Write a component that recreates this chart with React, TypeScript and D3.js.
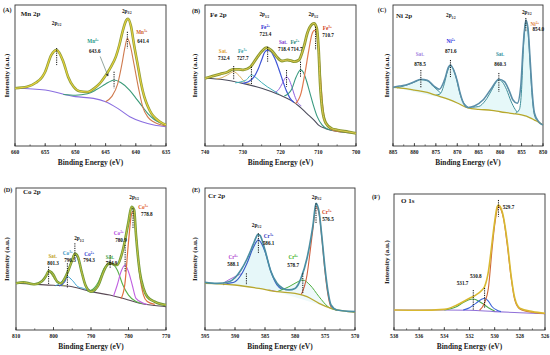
import React from "react";
import * as d3 from "d3";

type P = [number, number];

// ---------- Tick values ----------
const mnTicks = [660, 655, 650, 645, 640, 635];
const feTicks = [740, 730, 720, 710, 700];
const niTicks = [885, 880, 875, 870, 865, 860, 855, 850];
const coTicks = [810, 800, 790, 780, 770];
const crTicks = [595, 590, 585, 580, 575, 570];
const oTicks = [538, 536, 534, 532, 530, 528, 526];

// ---------- (A) Mn 2p ----------
const mnEnvelope: P[] = [[660,41],[658,42],[656.5,45],[655.5,49],[655,52.7],[654,64.5],[653.1,68],[652,59.8],[651.2,49],[650.3,42],[649.3,38.8],[648,38.3],[647,40.5],[646,44.2],[645,50],[644,57],[643.3,63.4],[642.7,72],[642.2,81],[641.6,89],[641.3,90.3],[640.8,85],[640.3,72],[639.7,58],[639.2,46],[638.6,35],[638,28],[637.4,23],[636.7,19.5],[636,17.2],[635,15]];
const mnBackground: P[] = [[660,41],[655,39.7],[650,35],[647,33.8],[645,31.4],[643,26.7],[641,20.8],[639,17.2],[637,14.9],[635,13.7]];
const mnMn4: P[] = [[652,36.5],[650,36],[648,37],[646.5,40],[645,44],[644,46.3],[643.6,46.8],[642.5,45],[641,39.5],[640,34],[639,28.5],[638,23],[637,19],[636,16.5],[635,14.9]];
const mnMn3: P[] = [[645,31.4],[644,35],[643,44],[642.3,58],[641.8,70],[641.4,76.4],[640.9,71],[640.3,58],[639.5,40],[638.8,27],[638,20.5],[637,17],[636,15.2],[635,14.2]];

// ---------- (B) Fe 2p ----------
const feEnvelope: P[] = [[740,48],[738,49.5],[736,51],[734,52.5],[732.6,54.4],[731,54.3],[729.8,54],[728,56],[726.4,62],[725,67],[723.7,69.7],[722.5,68],[721.5,65],[720.9,63],[719.6,60.3],[718.2,61],[717.2,60.5],[716.4,59.8],[715.1,61],[714.3,66],[713.8,70.4],[712.9,80],[711.6,86.5],[711.1,87],[710.4,83.5],[709.9,68],[709.5,44.4],[708.9,25.5],[708,16.3],[706.5,12.5],[704.9,11.3],[702,10],[700,9]];
const feBackground: P[] = [[740,48],[735,47],[730,44.4],[725,41],[720,36],[717,32],[715,28],[713,23],[711,18],[710,15],[708,12.3],[706,10.8],[704,10],[700,9]];
const feFe3a: P[] = [[716,30],[714.5,38],[713.5,52],[712.5,68],[711.7,79],[711,82],[710.3,78],[709.8,65],[709.3,45],[708.8,28],[708.2,18],[707.2,13],[706,11],[704,10]];
const feFe2a: P[] = [[719,35.5],[718,37],[717,40.5],[716,48],[715.2,52.5],[714.7,54],[714,52.5],[713.2,47],[712.3,38.5],[711.3,29],[710.3,21],[709,15],[707.5,12],[706,11]];
const feSat1: P[] = [[721.5,38],[720.5,40],[719.5,44.5],[718.8,48],[718.4,49],[717.8,47.5],[717,42],[716.3,36],[715.5,31],[714.5,28.5]];
const feFe2b: P[] = [[730,44.4],[728.5,45.5],[727,49],[726,54],[725,61],[724.2,66.5],[723.4,68],[722.5,66.8],[721.5,62],[720.5,55],[719.5,47],[718.5,39.5],[717.5,34],[716.5,31]];
const feFe3b: P[] = [[732,44.8],[730.5,45.5],[729,47],[727.7,50.4],[726.5,48.5],[725,45],[723.5,42],[722,39.5],[720.5,37]];
const feSat2: P[] = [[737,47.5],[735.5,48.5],[734,50.5],[732.4,52.7],[731,50],[729.5,45.5],[728,44]];

// ---------- (C) Ni 2p ----------
const niData: P[] = [[885,41.6],[883.5,42.5],[882,43.3],[880,45.6],[878.5,47.3],[877,46.7],[875.5,42.6],[874.2,40.2],[873,46.7],[872,56.2],[871.6,57.4],[870.8,53.5],[870,46],[869.3,37],[868.5,30],[867.5,27.3],[866,28.4],[864,32.6],[862,41],[860.3,47.3],[859,45.6],[858,40],[857,32.6],[856,30.3],[855.2,42],[854.6,72],[854,89.4],[853.5,83.5],[853,61],[852.5,37.4],[852,23.4],[851,17.2],[850,14.9]];
const niBackground: P[] = [[885,41.6],[882,40.7],[880,39.7],[877,38],[875,36],[872,33],[870,30.5],[867.5,27],[865,26],[862,25.3],[860,24.3],[857,23],[855,22],[853,20],[852,18.4],[851,16.8],[850,14.9]];
const niSatA: P[] = [[884,41.2],[882,43],[880,45.3],[878.5,47],[877,46.2],[875.5,42],[874.2,38.5],[873,35],[872,33]];
const niNiA: P[] = [[875,36],[874,37],[873,44.5],[872.3,53],[871.6,56.8],[871,55],[870.4,50],[869.7,41],[869,33.5],[868.2,29.5],[867.3,27]];
const niSatB: P[] = [[866.5,27.5],[865,28],[863.5,32],[862,39.5],[861,45],[860.3,47],[859.5,45.5],[858.5,40],[857.5,32],[856.5,26],[855.5,22.5]];
const niNiB: P[] = [[856.5,23],[855.5,26],[855,40],[854.6,68],[854.2,85],[854,88],[853.7,86],[853.3,73],[852.9,52],[852.5,34],[852,22],[851.2,17.5]];

// ---------- (D) Co 2p ----------
const coEnvelope: P[] = [[810,32.9],[808,33.6],[806,32.5],[805,32.2],[803,34.5],[802,38],[801.3,41.5],[800.5,40.5],[800,38.7],[799,34],[798,32.9],[797,36.4],[796,42.3],[795,49.3],[794.3,53.8],[793.5,51.6],[792.5,41],[791.5,31.7],[790,27],[789,28.2],[788,31.7],[787,38.7],[786,44.6],[785,47],[784,46.2],[783,45.8],[782,51.6],[781,62.2],[780,76.3],[779.2,86.8],[778.5,84.5],[778,66.9],[777,41],[776,29.3],[775,23.5],[773,19.9],[770,17.6]];
const coBackground: P[] = [[810,32.9],[805,32.2],[800,31.5],[795,30.5],[790,27],[785,24.6],[780,21.1],[777,18.8],[773,17.2],[770,16.4]];
const coCo3a: P[] = [[782,22],[781,31.7],[780,62],[779.3,80],[778.9,83.3],[778.3,76],[777.8,62],[777,38.7],[776,24.6],[775,20],[773,18]];
const coCo2a: P[] = [[784,23.9],[783,31.7],[782,41],[780.9,45.8],[780,41],[779,31.7],[778,22.3],[776,18.8],[775,18]];
const coSat1: P[] = [[791,27.5],[790,28],[788,34],[786.5,43.4],[784.9,47],[783,42.3],[781.5,31.7],[780,24.6],[778,20],[776,18.5]];
const coCo2b: P[] = [[798.5,31],[797,34],[796,42.3],[795,49.8],[794.3,52.8],[793.5,50.2],[792.5,41],[791.5,31.7],[790,27.5],[789,27]];
const coCo3b: P[] = [[799.5,31.2],[798.5,32.5],[797.5,35],[796.3,37.6],[795,35],[793.5,30.5],[792,29.3],[790.5,27.5]];
const coSat2: P[] = [[805,32.2],[803,34.5],[802,38],[801.3,41],[800.5,39],[799.5,35],[798,32.2],[797,31.2]];

// ---------- (E) Cr 2p ----------
const crEnvelope: P[] = [[595,33.6],[593,32.9],[591,34],[590,36.8],[589,42.3],[588,50],[587,59.9],[586.5,65],[586.2,67.4],[585.8,66.5],[585.5,63.4],[585,56.3],[584,41],[583,32.9],[582,29.3],[581,28.2],[580,29.3],[579.5,31.7],[579,36.4],[578,50.5],[577.3,66],[577,73.9],[576.5,89.2],[576,83.3],[575.5,64.6],[575,43.4],[574.5,27],[574,17.6],[573,14.1],[570,12.9]];
const crBackground: P[] = [[595,32.9],[590,31.7],[586,29.3],[583,27],[580,25.8],[578,23.5],[576,18.8],[574,15.3],[572,13.4],[570,12.4]];
const crCr3a: P[] = [[579,24.6],[578,38.7],[577.4,58],[577,71.6],[576.5,86.8],[576,82.2],[575.5,63.4],[575,41],[574.5,24.6],[574,16.4],[573,14]];
const crCr6a: P[] = [[583,27],[581,30.5],[580,32.9],[578.7,35.2],[577.5,31.7],[576,23.5],[574.5,16.4],[573,14]];
const crCr3b: P[] = [[592,32],[591,32.9],[590,34],[589,38.7],[588,47],[587,57.5],[586.1,63.4],[585,55.2],[584,41],[583,31.7],[582,28.2],[581,27]];
const crCr6b: P[] = [[592,32.9],[590,37.6],[588.5,39.9],[587,37.6],[585.5,31.7],[584,28.2],[583,27]];

// ---------- (F) O 1s ----------
const oEnvelope: P[] = [[538,14.7],[536,14.5],[534,15.2],[533,18.4],[532,23.3],[531.5,25.7],[531,29.4],[530.8,31.9],[530.5,42.9],[530.2,64.9],[530,79.7],[529.8,90.7],[529.7,91.9],[529.4,87],[529,64.9],[528.7,40.4],[528.4,23.3],[528,16],[527,13.5],[526,12.3]];
const oBackground: P[] = [[538,14.7],[534,14.7],[532,14.5],[530,13.5],[528,12.7],[526,12]];
const oLattice: P[] = [[531.2,14.5],[530.8,20],[530.5,30.6],[530.2,60],[530,77],[529.7,90.7],[529.3,82],[529,62.5],[528.7,39],[528.4,22],[528,15.5],[527,13],[526,12]];
const oHydroxyl: P[] = [[532.5,14.7],[532,16.4],[531.5,19.6],[531,22.8],[530.8,23.3],[530.5,21.3],[530.2,17.1],[529.8,14.5],[529.5,13.5]];
const oAdsorbed: P[] = [[534,14.7],[533,17.2],[532.5,20.3],[531.7,22.8],[531,19.6],[530.5,16.4],[530,14]];

// ---------- rendering ----------
const FONT = "'Liberation Serif','Times New Roman',serif";

interface Curve { data: P[]; color: string; width: number; fill?: string }
interface Lbl { t: string; sup?: string; sub?: string; x: number; y: number; color?: string; size?: number }
interface Mark { x: number; y1: number; y2: number }
interface PanelCfg {
  left: number; right: number; top: number; bottom: number;
  domain: [number, number]; ticks: number[]; minor: number;
  curves: Curve[]; labels: Lbl[]; marks: Mark[];
  letter: string; letterDx: number; letterDy: number;
  title: string; titleDx: number; titleDy: number; ylabDx: number;
  arrow?: [P, P];
}

function LabelText({ l, x, y }: { l: Lbl; x: number; y: number }) {
  const fs = l.size ?? 5.2;
  return (
    <text x={x} y={y} textAnchor="middle" dominantBaseline="middle" fontFamily={FONT} fontWeight="bold" fontSize={fs} fill={l.color ?? "#111"}>
      {l.t}
      {l.sup && <tspan fontSize={fs * 0.62} dy={-fs * 0.4}>{l.sup}</tspan>}
      {l.sub && <tspan fontSize={fs * 0.62} dy={fs * 0.3}>{l.sub}</tspan>}
    </text>
  );
}

function Panel({ c, id }: { c: PanelCfg; id: string }) {
  const x = d3.scaleLinear().domain(c.domain).range([c.left, c.right]);
  const y = d3.scaleLinear().domain([0, 100]).range([c.bottom, c.top]);
  const line = d3.line<P>().x(d => x(d[0])).y(d => y(d[1])).curve(d3.curveMonotoneX);
  const lo = Math.min(...c.domain), hi = Math.max(...c.domain);
  const minors = d3.range(lo, hi + 1e-9, c.minor);
  const midY = (c.top + c.bottom) / 2;
  return (
    <g>
      <rect x={c.left} y={c.top} width={c.right - c.left} height={c.bottom - c.top} fill="none" stroke="#333" strokeWidth={0.9} />
      {c.curves.map((cv, i) => (
        <g key={i}>
          {cv.fill && <path d={(line(cv.data) ?? "") + "Z"} fill={cv.fill} stroke="none" />}
          <path d={line(cv.data) ?? ""} fill="none" stroke={cv.color} strokeWidth={cv.width} strokeLinejoin="round" />
        </g>
      ))}
      {c.marks.map((m, i) => (
        <line key={i} x1={x(m.x)} x2={x(m.x)} y1={y(m.y1)} y2={y(m.y2)} stroke="#111" strokeWidth={1} strokeDasharray="1.2,1.1" />
      ))}
      {c.arrow && (
        <line x1={x(c.arrow[0][0])} y1={y(c.arrow[0][1])} x2={x(c.arrow[1][0])} y2={y(c.arrow[1][1])} stroke="#4a6a60" strokeWidth={0.6} markerEnd={`url(#arr${id})`} />
      )}
      <defs>
        <marker id={`arr${id}`} viewBox="0 0 6 6" refX="5" refY="3" markerWidth="5" markerHeight="5" orient="auto">
          <path d="M0,0 L6,3 L0,6 Z" fill="#333" />
        </marker>
      </defs>
      {minors.map((v, i) => (
        <line key={"m" + i} x1={x(v)} x2={x(v)} y1={c.bottom} y2={c.bottom - 1.6} stroke="#333" strokeWidth={0.7} />
      ))}
      {c.ticks.map((v, i) => (
        <g key={"t" + i}>
          <line x1={x(v)} x2={x(v)} y1={c.bottom} y2={c.bottom - 3} stroke="#333" strokeWidth={0.8} />
          <text x={x(v)} y={c.bottom + 7} textAnchor="middle" dominantBaseline="middle" fontFamily={FONT} fontWeight="bold" fontSize={5.5} fill="#222">{v}</text>
        </g>
      ))}
      <text x={(c.left + c.right) / 2} y={c.bottom + 17.5} textAnchor="middle" dominantBaseline="middle" fontFamily={FONT} fontWeight="bold" fontSize={7.4} fill="#222">Binding Energy (eV)</text>
      <text transform={`translate(${c.left - c.ylabDx},${midY}) rotate(-90)`} textAnchor="middle" dominantBaseline="middle" fontFamily={FONT} fontWeight="bold" fontSize={7} fill="#222">Intensity (a.u.)</text>
      <text x={c.left - c.letterDx} y={c.top + c.letterDy} textAnchor="middle" dominantBaseline="middle" fontFamily={FONT} fontWeight="bold" fontSize={6.2} fill="#222">{c.letter}</text>
      <text x={c.left + c.titleDx} y={c.top + c.titleDy} textAnchor="start" dominantBaseline="middle" fontFamily={FONT} fontWeight="bold" fontSize={7} fill="#222">{c.title}</text>
      {c.labels.map((l, i) => <LabelText key={i} l={l} x={x(l.x)} y={y(l.y)} />)}
    </g>
  );
}

const panels: PanelCfg[] = [
  {
    left: 15, right: 166, top: 5, bottom: 146, domain: [660, 635], ticks: mnTicks, minor: 2.5,
    curves: [
      { data: mnBackground, color: "#8a6ee0", width: 1.1 },
      { data: mnMn4, color: "#3a9a78", width: 1.1 },
      { data: mnMn3, color: "#cf7a4e", width: 1.1 },
      { data: mnEnvelope, color: "#8e9c3a", width: 2.6 },
      { data: mnEnvelope, color: "#e8d23c", width: 1.1 },
    ],
    marks: [{ x: 653.1, y1: 69.5, y2: 57.4 }, { x: 641.4, y1: 81, y2: 69.3 }, { x: 643.6, y1: 52.7, y2: 41 }],
    labels: [
      { t: "2p", sub: "1/2", x: 653.1, y: 87 },
      { t: "2p", sub: "3/2", x: 641.5, y: 95.2 },
      { t: "Mn", sup: "3+", x: 639.0, y: 80, color: "#d0602c" },
      { t: "641.4", x: 638.8, y: 74 },
      { t: "Mn", sup: "4+", x: 647.1, y: 74, color: "#1f9a88" },
      { t: "643.6", x: 646.8, y: 66.9 },
    ],
    arrow: [[645.9, 63.5], [644.6, 49.6]],
    letter: "(A)", letterDx: 7.7, letterDy: 6, title: "Mn 2p", titleDx: 5.7, titleDy: 9, ylabDx: 8,
  },
  {
    left: 205, right: 356, top: 5, bottom: 146, domain: [740, 700], ticks: feTicks, minor: 5,
    curves: [
      { data: feBackground, color: "#4a4a5a", width: 1.1 },
      { data: feSat2, color: "#d8b060", width: 1 },
      { data: feFe3b, color: "#40b0b8", width: 1 },
      { data: feFe2b, color: "#3f55d6", width: 1.2 },
      { data: feSat1, color: "#9060e0", width: 1 },
      { data: feFe2a, color: "#3a9a80", width: 1.1 },
      { data: feFe3a, color: "#e07a50", width: 1.2 },
      { data: feEnvelope, color: "#8a9a30", width: 2.8 },
      { data: feEnvelope, color: "#e0c850", width: 1 },
    ],
    marks: [
      { x: 732.4, y1: 56.7, y2: 46.8 }, { x: 727.7, y1: 56.2, y2: 43.3 }, { x: 723.4, y1: 70.4, y2: 59.8 },
      { x: 718.4, y1: 53.9, y2: 42 }, { x: 714.7, y1: 59.8, y2: 49.1 }, { x: 710.7, y1: 84.6, y2: 68.1 },
    ],
    labels: [
      { t: "Sat.", x: 735.2, y: 66.9, color: "#e0a030" },
      { t: "732.4", x: 735.0, y: 61.7 },
      { t: "Fe", sup: "3+", x: 730.1, y: 66.9, color: "#2f9fa8" },
      { t: "727.7", x: 730.0, y: 61.7 },
      { t: "2p", sub: "1/2", x: 724.3, y: 92.9 },
      { t: "Fe", sup: "2+", x: 724.0, y: 83.7, color: "#2a2ad0" },
      { t: "723.4", x: 724.0, y: 78.7 },
      { t: "Sat.", x: 719.3, y: 73.3, color: "#8040d0" },
      { t: "718.4", x: 719.1, y: 68.1 },
      { t: "Fe", sup: "2+", x: 716.2, y: 73.3, color: "#2a8a7a" },
      { t: "714.7", x: 715.7, y: 68.1 },
      { t: "2p", sub: "3/2", x: 711.3, y: 92.9 },
      { t: "Fe", sup: "3+", x: 707.6, y: 83, color: "#d04020" },
      { t: "710.7", x: 707.4, y: 78 },
    ],
    letter: "(B)", letterDx: 9, letterDy: 6.7, title: "Fe 2p", titleDx: 5, titleDy: 10, ylabDx: 10,
  },
  {
    left: 393, right: 543, top: 5, bottom: 146, domain: [885, 850], ticks: niTicks, minor: 2.5,
    curves: [
      { data: niSatA, color: "#3f8f9a", width: 1, fill: "#e6f8f9" },
      { data: niNiA, color: "#3f8f9a", width: 1, fill: "#e6f8f9" },
      { data: niSatB, color: "#3f8f9a", width: 1, fill: "#e6f8f9" },
      { data: niNiB, color: "#3f8f9a", width: 1, fill: "#e6f8f9" },
      { data: niBackground, color: "#b7a82c", width: 1.3 },
      { data: niData, color: "#5a8ea8", width: 1.6 },
    ],
    marks: [{ x: 878.5, y1: 53.9, y2: 41.1 }, { x: 871.6, y1: 61, y2: 48.9 }, { x: 860.3, y1: 51.8, y2: 38.3 }, { x: 854.0, y1: 90.8, y2: 80.9 }],
    labels: [
      { t: "2p", sub: "1/2", x: 871.5, y: 92.2 },
      { t: "2p", sub: "3/2", x: 853.8, y: 94.5 },
      { t: "Ni", sup: "2+", x: 851.9, y: 85.8, color: "#e08040" },
      { t: "854.0", x: 851.1, y: 82.3 },
      { t: "Ni", sup: "2+", x: 871.5, y: 74, color: "#2a2ae0" },
      { t: "871.6", x: 871.5, y: 66.5 },
      { t: "Sat.", x: 878.7, y: 64.5, color: "#a080e0" },
      { t: "878.5", x: 878.7, y: 57.4 },
      { t: "Sat.", x: 860.0, y: 64.5, color: "#3090a0" },
      { t: "860.3", x: 860.0, y: 57.4 },
    ],
    letter: "(C)", letterDx: 11, letterDy: 6, title: "Ni 2p", titleDx: 3, titleDy: 11.5, ylabDx: 6,
  },
  {
    left: 16, right: 166, top: 188, bottom: 330, domain: [810, 770], ticks: coTicks, minor: 5,
    curves: [
      { data: coBackground, color: "#5a4a55", width: 1.1 },
      { data: coSat2, color: "#98b040", width: 1 },
      { data: coCo3b, color: "#40a4d4", width: 1 },
      { data: coCo2b, color: "#3f5ad6", width: 1.2 },
      { data: coSat1, color: "#58b048", width: 1.1 },
      { data: coCo2a, color: "#c060e0", width: 1.1 },
      { data: coCo3a, color: "#e07040", width: 1.2 },
      { data: coEnvelope, color: "#6d9a3a", width: 2.6 },
      { data: coEnvelope, color: "#c8c040", width: 1 },
    ],
    marks: [
      { x: 801.3, y1: 44.6, y2: 31.7 }, { x: 796.3, y1: 47, y2: 29.4 }, { x: 794.3, y1: 61.1, y2: 50.5 },
      { x: 784.9, y1: 52.8, y2: 43.4 }, { x: 780.9, y1: 59.9, y2: 41.1 }, { x: 778.8, y1: 85.7, y2: 71.6 },
    ],
    labels: [
      { t: "2p", sub: "3/2", x: 778.5, y: 93.2 },
      { t: "Co", sup: "3+", x: 776.1, y: 85.7, color: "#e05020" },
      { t: "778.8", x: 775.1, y: 81 },
      { t: "Co", sup: "2+", x: 782.6, y: 67.4, color: "#b040e0" },
      { t: "780.9", x: 782.0, y: 62.7 },
      { t: "Sat.", x: 784.9, y: 50.9, color: "#40a040" },
      { t: "784.9", x: 784.5, y: 46.3 },
      { t: "2p", sub: "1/2", x: 793.2, y: 64.1 },
      { t: "Co", sup: "2+", x: 790.5, y: 52.8, color: "#3040d0" },
      { t: "794.3", x: 790.5, y: 48.8 },
      { t: "Co", sup: "3+", x: 796.2, y: 53.5, color: "#3090c0" },
      { t: "796.3", x: 795.6, y: 48.8 },
      { t: "Sat.", x: 800.2, y: 51.6, color: "#c0a020" },
      { t: "801.3", x: 800.1, y: 46.7 },
    ],
    letter: "(D)", letterDx: 8, letterDy: 3, title: "Co 2p", titleDx: 7, titleDy: 4, ylabDx: 9,
  },
  {
    left: 205, right: 355, top: 188, bottom: 330, domain: [595, 570], ticks: crTicks, minor: 2.5,
    curves: [
      { data: crCr6b, color: "#b070d8", width: 1, fill: "#eef9fa" },
      { data: crCr3b, color: "#3a5fc8", width: 1.2, fill: "#e6f7f9" },
      { data: crCr6a, color: "#50b040", width: 1, fill: "#eef9fa" },
      { data: crCr3a, color: "#d06040", width: 1.1 },
      { data: crBackground, color: "#b8a830", width: 1.3 },
      { data: crEnvelope, color: "#4a8ea2", width: 1.7 },
    ],
    marks: [{ x: 576.5, y1: 89.2, y2: 75.1 }, { x: 586.1, y1: 68.1, y2: 54 }, { x: 588.1, y1: 39.9, y2: 31.7 }, { x: 578.7, y1: 39.9, y2: 25.8 }],
    labels: [
      { t: "2p", sub: "3/2", x: 576.4, y: 93.2 },
      { t: "Cr", sup: "3+", x: 574.7, y: 82.2, color: "#d04020" },
      { t: "576.5", x: 574.5, y: 77.5 },
      { t: "2p", sub: "1/2", x: 586.4, y: 73.5 },
      { t: "Cr", sup: "3+", x: 584.4, y: 65.7, color: "#3030c0" },
      { t: "586.1", x: 584.4, y: 61 },
      { t: "Cr", sup: "6+", x: 590.3, y: 50.9, color: "#b040d0" },
      { t: "588.1", x: 590.3, y: 45.8 },
      { t: "Cr", sup: "6+", x: 580.3, y: 50.9, color: "#40b020" },
      { t: "578.7", x: 580.3, y: 45.3 },
    ],
    letter: "(E)", letterDx: 9, letterDy: 3, title: "Cr 2p", titleDx: 3, titleDy: 8, ylabDx: 10,
  },
  {
    left: 394, right: 545, top: 194, bottom: 330, domain: [538, 526], ticks: oTicks, minor: 1,
    curves: [
      { data: oBackground, color: "#9070d8", width: 1.1 },
      { data: oAdsorbed, color: "#50a848", width: 1.1 },
      { data: oHydroxyl, color: "#3a62d8", width: 1.1 },
      { data: oLattice, color: "#d0683a", width: 1.1 },
      { data: oEnvelope, color: "#d8b830", width: 1.6 },
    ],
    marks: [{ x: 529.7, y1: 95.6, y2: 83.3 }, { x: 530.8, y1: 30.9, y2: 16.2 }, { x: 531.7, y1: 29.4, y2: 14.7 }],
    labels: [
      { t: "529.7", x: 528.9, y: 89.5 },
      { t: "530.8", x: 531.5, y: 39.2 },
      { t: "531.7", x: 532.55, y: 34.3 },
    ],
    letter: "(F)", letterDx: 18, letterDy: 4, title: "O 1s", titleDx: 7, titleDy: 7.5, ylabDx: 7,
  },
];

export default function App() {
  return (
    <svg width={550} height={355} viewBox="0 0 550 355" style={{ position: "absolute", left: 0, top: 0, background: "#fff" }}>
      <rect x={0} y={0} width={550} height={355} fill="#fff" />
      {panels.map((p, i) => <Panel key={i} c={p} id={String(i)} />)}
    </svg>
  );
}
